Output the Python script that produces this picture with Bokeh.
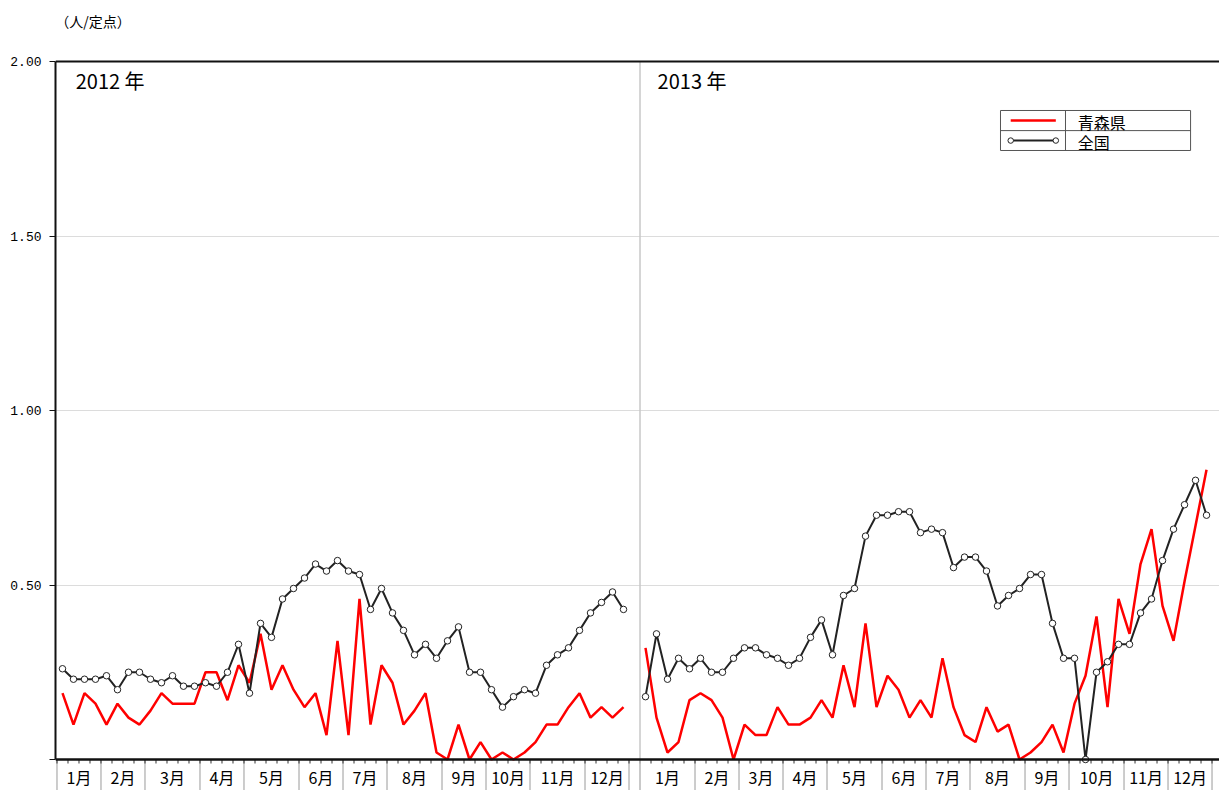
import numpy as np
from bokeh.plotting import figure
from bokeh.models import Range1d, FixedTicker, Span, NumeralTickFormatter
from bokeh.core.properties import value
from bokeh.embed import file_html
from bokeh.resources import INLINE

# ---------------- data ----------------
years = ["2012 年", "2013 年"]
month_labels = ["1月", "2月", "3月", "4月", "5月", "6月",
                "7月", "8月", "9月", "10月", "11月", "12月"]
weeks_per_month_2012 = [4, 4, 5, 4, 5, 4, 4, 5, 4, 4, 5, 4]
weeks_per_month_2013 = [5, 4, 4, 4, 5, 4, 4, 5, 4, 5, 4, 4]

aomori_2012 = [0.19, 0.10, 0.19, 0.16, 0.10, 0.16, 0.12, 0.10, 0.14, 0.19,
               0.16, 0.16, 0.16, 0.25, 0.25, 0.17, 0.27, 0.22, 0.36, 0.20,
               0.27, 0.20, 0.15, 0.19, 0.07, 0.34, 0.07, 0.46, 0.10, 0.27,
               0.22, 0.10, 0.14, 0.19, 0.02, 0.00, 0.10, 0.00, 0.05, 0.00,
               0.02, 0.00, 0.02, 0.05, 0.10, 0.10, 0.15, 0.19, 0.12, 0.15,
               0.12, 0.15]
national_2012 = [0.26, 0.23, 0.23, 0.23, 0.24, 0.20, 0.25, 0.25, 0.23, 0.22,
                 0.24, 0.21, 0.21, 0.22, 0.21, 0.25, 0.33, 0.19, 0.39, 0.35,
                 0.46, 0.49, 0.52, 0.56, 0.54, 0.57, 0.54, 0.53, 0.43, 0.49,
                 0.42, 0.37, 0.30, 0.33, 0.29, 0.34, 0.38, 0.25, 0.25, 0.20,
                 0.15, 0.18, 0.20, 0.19, 0.27, 0.30, 0.32, 0.37, 0.42, 0.45,
                 0.48, 0.43]
aomori_2013 = [0.32, 0.12, 0.02, 0.05, 0.17, 0.19, 0.17, 0.12, 0.00, 0.10,
               0.07, 0.07, 0.15, 0.10, 0.10, 0.12, 0.17, 0.12, 0.27, 0.15,
               0.39, 0.15, 0.24, 0.20, 0.12, 0.17, 0.12, 0.29, 0.15, 0.07,
               0.05, 0.15, 0.08, 0.10, 0.00, 0.02, 0.05, 0.10, 0.02, 0.16,
               0.24, 0.41, 0.15, 0.46, 0.36, 0.56, 0.66, 0.44, 0.34, 0.51,
               0.67, 0.83]
national_2013 = [0.18, 0.36, 0.23, 0.29, 0.26, 0.29, 0.25, 0.25, 0.29, 0.32,
                 0.32, 0.30, 0.29, 0.27, 0.29, 0.35, 0.40, 0.30, 0.47, 0.49,
                 0.64, 0.70, 0.70, 0.71, 0.71, 0.65, 0.66, 0.65, 0.55, 0.58,
                 0.58, 0.54, 0.44, 0.47, 0.49, 0.53, 0.53, 0.39, 0.29, 0.29,
                 0.00, 0.25, 0.28, 0.33, 0.33, 0.42, 0.46, 0.57, 0.66, 0.73,
                 0.80, 0.70]
y_ticks = [0, 0.5, 1.0, 1.5, 2.0]
series_names = ["青森県", "全国"]
unit_label = "（人/定点）"

# ---------------- positions ----------------
n12 = len(aomori_2012)
off13 = n12 + 1                      # one empty slot between the years
x12 = np.arange(n12)
x13 = off13 + np.arange(len(aomori_2013))


def bounds(wpm, start):
    return start - 0.5 + np.concatenate([[0], np.cumsum(wpm)])


b12 = bounds(weeks_per_month_2012, 0)
b13 = bounds(weeks_per_month_2013, off13)
boundaries = list(b12) + list(b13)
centers = list((b12[:-1] + b12[1:]) / 2) + list((b13[:-1] + b13[1:]) / 2)
minor = list(np.arange(-0.5, x13[-1] + 1.0, 1.0))

RED = "#ff0000"
BLK = "#222222"
FONT = "Noto Sans CJK JP"

PX = 349.0                     # pixels per unit on y
Y_TOP = 2.0 + 61 / PX          # room above the 2.00 line (unit label)
Y_BOT = -31 / PX               # room below zero (month row)
X0, X1 = -0.636, 105.18

p = figure(width=1219, height=790,
           x_range=Range1d(X0, X1), y_range=Range1d(Y_BOT, Y_TOP),
           output_backend="svg", toolbar_location=None,
           x_axis_location=None,
           min_border_left=55, min_border_right=0,
           min_border_top=0, min_border_bottom=0)
p.outline_line_color = None
p.background_fill_color = "white"
p.border_fill_color = "white"

# y axis
p.yaxis.ticker = FixedTicker(ticks=y_ticks)
p.yaxis.bounds = (0, 2.0)
p.yaxis.formatter = NumeralTickFormatter(format="0.00")
p.yaxis.major_label_overrides = {0: ""}
p.yaxis.major_tick_out = 6
p.yaxis.major_tick_in = 0
p.yaxis.minor_tick_line_color = None
p.yaxis.major_label_standoff = 8
p.yaxis.major_label_text_font = "Liberation Mono"
p.yaxis.major_label_text_font_size = "13px"
p.yaxis.major_label_text_color = "#000000"
p.yaxis.axis_line_width = 2
p.yaxis.axis_line_color = "#111111"
p.yaxis.major_tick_line_color = "#111111"

p.xgrid.visible = False
p.ygrid.ticker = FixedTicker(ticks=y_ticks[1:-1])
p.ygrid.grid_line_color = "#dcdcdc"
p.ygrid.grid_line_width = 1

# month cells below the zero line: dividers, week ticks, labels
p.segment(x0=boundaries, x1=boundaries, y0=[0] * len(boundaries),
          y1=[Y_BOT] * len(boundaries), line_color="#9a9a9a", line_width=1)
p.segment(x0=minor, x1=minor, y0=[0] * len(minor),
          y1=[-4 / PX] * len(minor), line_color="#333333", line_width=1)
p.text(x=centers, y=[-17 / PX] * len(centers), text=month_labels * 2,
       text_font=value(FONT), text_font_size="16px",
       text_align="center", text_baseline="middle", text_color="#000000")

# year divider (start of the 2013 block)
ydiv = b13[0]
p.segment(x0=[ydiv], x1=[ydiv], y0=[2.0], y1=[Y_BOT],
          line_color="#c8c8c8", line_width=1.5)

# top border and zero line
p.add_layout(Span(location=2.0, dimension="width",
                  line_color="#111111", line_width=2))
p.add_layout(Span(location=0.0, dimension="width",
                  line_color="#111111", line_width=2.5))

# series
p.line(x12, aomori_2012, line_color=RED, line_width=2.5)
p.line(x13, aomori_2013, line_color=RED, line_width=2.5)
for xs, ys in ((x12, national_2012), (x13, national_2013)):
    p.line(xs, ys, line_color=BLK, line_width=2)
    p.scatter(xs, ys, marker="circle", size=6.5, fill_color="white",
              line_color=BLK, line_width=1)

# year labels
p.text(x=[x12[0] + 1.2, x13[0] + 1.1], y=[1.945, 1.945], text=years,
       text_font=value(FONT), text_font_size="20px",
       text_baseline="middle", text_align="left", text_color="#000000")

# unit label
p.text(x=[X0 - 0.02], y=[(759 - 20) / PX], text=[unit_label],
       text_font=value(FONT), text_font_size="14px",
       text_baseline="middle", text_align="left", text_color="#000000")

# legend (table style)
lx0, lx1, lxs = 85.27, 102.55, 91.18
ly0, ly1, lym = 1.745, 1.8596, 1.802
p.quad(left=[lx0], right=[lx1], bottom=[ly0], top=[ly1],
       fill_color="white", line_color="#555555", line_width=1)
p.segment(x0=[lx0, lxs], y0=[lym, ly0], x1=[lx1, lxs], y1=[lym, ly1],
          line_color="#555555", line_width=1)
r1 = (ly1 + lym) / 2
r2 = (lym + ly0) / 2
p.line([86.2, 90.3], [r1, r1], line_color=RED, line_width=2.5)
p.line([86.2, 90.3], [r2, r2], line_color=BLK, line_width=2)
p.scatter([86.2, 90.3], [r2, r2], marker="circle", size=5.5,
          fill_color="white", line_color=BLK, line_width=1)
p.text(x=[92.3, 92.3], y=[r1 - 0.004, r2 - 0.004], text=series_names,
       text_font=value(FONT), text_font_size="16px",
       text_baseline="middle", text_align="left", text_color="#000000")

open("out.html", "w").write(file_html(p, INLINE))
